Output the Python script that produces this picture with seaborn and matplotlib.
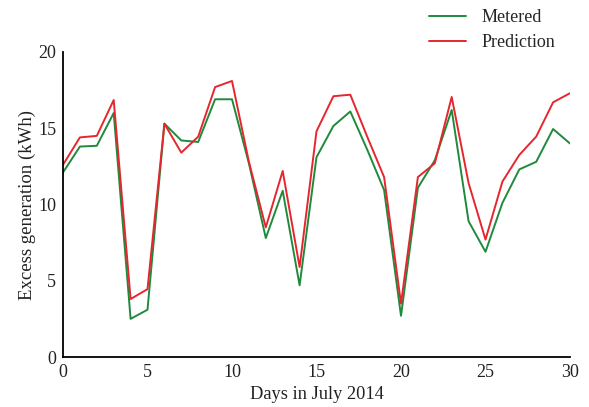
import numpy as np
import pandas as pd
import matplotlib
matplotlib.use("Agg")
import matplotlib.pyplot as plt
import seaborn as sns

days = list(range(31))
metered = [12.1, 13.8, 13.85, 16.0, 2.5, 3.1, 15.3, 14.2, 14.1, 16.9, 16.9,
           12.7, 7.8, 10.9, 4.7, 13.1, 15.15, 16.1, 13.6, 10.95, 2.7,
           11.1, 12.9, 16.2, 8.9, 6.9, 10.1, 12.3, 12.8, 14.95, 14.0]
prediction = [12.6, 14.4, 14.5, 16.85, 3.8, 4.45, 15.3, 13.4, 14.45, 17.7, 18.1,
              12.8, 8.5, 12.2, 5.9, 14.8, 17.1, 17.2, 14.45, 11.8, 3.5,
              11.8, 12.7, 17.05, 11.4, 7.7, 11.5, 13.25, 14.45, 16.7, 17.3]
series_names = ["Metered", "Prediction"]
colors = ["#1f8a3c", "#e6262e"]
xticks = [0, 5, 10, 15, 20, 25, 30]
yticks = [0, 5, 10, 15, 20]

df = pd.DataFrame({
    "day": days * 2,
    "value": metered + prediction,
    "series": [series_names[0]] * len(days) + [series_names[1]] * len(days),
})

sns.set_style("white")
plt.rcParams["font.family"] = ["Liberation Serif", "DejaVu Serif"]
fs = 13

fig = plt.figure(figsize=(5.89, 4.07), dpi=100)
ax = fig.add_axes([63/589, 50/407, (570-63)/589, (357-52)/407])
sns.lineplot(data=df, x="day", y="value", hue="series",
             palette=dict(zip(series_names, colors)), linewidth=1.4, ax=ax)

ax.set_xlim(0, 30)
ax.set_ylim(0, 20)
ax.set_xticks(xticks)
ax.set_yticks(yticks)
ax.tick_params(length=0, labelsize=fs, colors="#222222")
ax.tick_params(axis="x", pad=5)
ax.tick_params(axis="y", pad=5)
ax.set_xlabel("Days in July 2014", fontsize=13.2, labelpad=3.5, color="#222222")
ax.set_ylabel("Excess generation (kWh)", fontsize=13.5, labelpad=1.3, color="#222222")
sns.despine(ax=ax)
for s in ["left", "bottom"]:
    ax.spines[s].set_color("black")
    ax.spines[s].set_linewidth(1.3)

leg = ax.legend(loc="upper right", bbox_to_anchor=(564/589, 1.0),
                bbox_transform=fig.transFigure, frameon=False,
                fontsize=fs, handlelength=2.05, handletextpad=0.85,
                labelspacing=0.45, borderaxespad=0.1)
for line in leg.get_lines():
    line.set_linewidth(1.4)

fig.savefig("out.png", dpi=100)
